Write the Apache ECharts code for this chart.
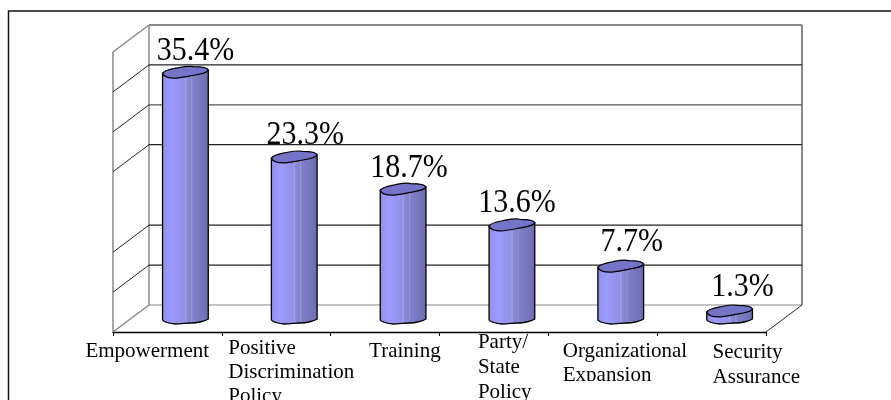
<!DOCTYPE html>
<html>
<head>
<meta charset="utf-8">
<script src="https://cdn.jsdelivr.net/npm/echarts@6/dist/echarts.min.js"></script>
<style>
  html, body { margin: 0; padding: 0; background: #fff; }
  #chart { width: 891px; height: 400px; }
</style>
</head>
<body>
<div id="chart"></div>
<script>
var categories = ['Empowerment', 'Positive\nDiscrimination\nPolicy', 'Training', 'Party/\nState\nPolicy', 'Organizational\nExpansion', 'Security\nAssurance'];
var shares = [35.4, 23.3, 18.7, 13.6, 7.7, 1.3];
// the wall lines of the picture, the one at 17.1 is not drawn in the original
var wall_levels = [0, 5.7, 11.4, 22.9, 28.6, 34.3, 40];

var FONT = '"Liberation Serif", "Times New Roman", serif';
var DEPTH_X = 36, DEPTH_Y = 27;
var GRAY = '#888888';

// label placement, the source chart did not place them evenly
var value_label_dx = [10, 11, 6, 5, 11, 13];
var value_label_dy = [0, -1, 0, 0, -3, -3];
var cat_label_dx = [-82, -48, -16, -16, -40, 1];
var cat_label_baseline = [25, 22, 25, 16, 25, 26];
var cat_label_pitch = [24, 24, 24, 25, 24, 25];
var cat_label_clip = [null, null, null, null, 381, null];

function line(x1, y1, x2, y2, color, width) {
  return {
    type: 'line',
    shape: { x1: x1, y1: y1, x2: x2, y2: y2 },
    style: { stroke: color, lineWidth: width, fill: null }
  };
}

function render_walls(params, api) {
  var v = api.value(1);
  var y = api.coord([0, v])[1];
  var box = params.coordSys;
  var left = box.x, right = box.x + box.width;
  var color = (v === 0 || v === 40) ? GRAY : (v === 28.6 ? '#555555' : '#222222');
  var width = (v === 40) ? 2 : 1.2;
  var kids = [
    line(left, y, right, y, color, width),
    line(left, y, left - DEPTH_X, y + DEPTH_Y, v === 40 || v === 0 ? GRAY : '#222222', v === 40 || v === 0 ? 1.5 : 1)
  ];
  if (v === 0) {
    kids.push(line(left, box.y, left, y, GRAY, 1.5));
    kids.push(line(right, box.y, right, y, GRAY, 2));
    kids.push(line(left - DEPTH_X, box.y + DEPTH_Y, left - DEPTH_X, y + DEPTH_Y, GRAY, 1.5));
    kids.push(line(right, y, right - DEPTH_X, y + DEPTH_Y, '#222222', 1));
  }
  return { type: 'group', children: kids };
}

function render_cylinder(params, api) {
  var i = api.value(0);
  var v = api.value(1);
  var band = api.size([1, 0])[0];
  var cx = api.coord([i, 0])[0] - DEPTH_X / 2;
  var base = api.coord([i, 0])[1] + 14;
  var top = api.coord([i, v])[1] + 15;
  var r = band * 0.21;
  var l = cx - r, e = cx + r;

  var body = 'M' + l + ' ' + (top + 1) +
    'L' + l + ' ' + (base + 1) +
    'C' + (l + 1) + ' ' + (base + 3) + ' ' + (l + 5) + ' ' + (base + 4) + ' ' + (cx - 10) + ' ' + (base + 5) +
    'C' + (cx - 4) + ' ' + (base + 5) + ' ' + (cx + 1) + ' ' + (base + 4) + ' ' + (cx + 6) + ' ' + (base + 4) +
    'C' + (cx + 12) + ' ' + (base + 4) + ' ' + (e - 3) + ' ' + (base + 2) + ' ' + e + ' ' + base +
    'L' + e + ' ' + (top - 2) + 'Z';
  var cap = 'M' + l + ' ' + (top + 1) +
    'C' + (l + 1) + ' ' + (top - 2) + ' ' + (l + 9) + ' ' + (top - 3) + ' ' + (cx - 8) + ' ' + (top - 4) +
    'C' + (cx - 2) + ' ' + (top - 5) + ' ' + (cx + 3) + ' ' + (top - 6) + ' ' + (cx + 8) + ' ' + (top - 5) +
    'C' + (cx + 14) + ' ' + (top - 5) + ' ' + (e - 1) + ' ' + (top - 5) + ' ' + e + ' ' + (top - 2) +
    'C' + (e - 1) + ' ' + (top + 1) + ' ' + (cx + 12) + ' ' + (top + 2) + ' ' + (cx + 5) + ' ' + (top + 3) +
    'C' + (cx - 1) + ' ' + (top + 4) + ' ' + (cx - 6) + ' ' + (top + 5) + ' ' + (cx - 11) + ' ' + (top + 5) +
    'C' + (l + 4) + ' ' + (top + 5) + ' ' + (l + 1) + ' ' + (top + 3) + ' ' + l + ' ' + (top + 1) + 'Z';

  return {
    type: 'group',
    children: [
      {
        type: 'path',
        shape: { pathData: body, layout: 'cover', x: l, y: top - 2, width: 2 * r, height: base + 7 - top },
        style: {
          stroke: '#000',
          lineWidth: 1.3,
          fill: new echarts.graphic.LinearGradient(0, 0, 1, 0, [
            { offset: 0, color: '#8f8fee' },
            { offset: 0.2, color: '#9c9cfe' },
            { offset: 0.48, color: '#9090e4' },
            { offset: 0.5, color: '#a4a4e6' },
            { offset: 0.53, color: '#8a8ad8' },
            { offset: 0.62, color: '#8282cc' },
            { offset: 0.63, color: '#9a9ad6' },
            { offset: 0.66, color: '#7f7fc8' },
            { offset: 0.85, color: '#7676bc' },
            { offset: 1, color: '#6a6aa8' }
          ])
        }
      },
      {
        type: 'path',
        shape: { pathData: cap, layout: 'cover', x: l, y: top - 6, width: 2 * r, height: 12 },
        style: { stroke: '#000', lineWidth: 1.2, fill: '#7474c8' }
      },
      {
        type: 'text',
        x: cx + value_label_dx[i],
        y: top - 21 + value_label_dy[i],
        scaleY: 1.1,
        style: {
          text: v.toFixed(1) + '%',
          x: 0,
          y: 0,
          align: 'center',
          verticalAlign: 'middle',
          font: '30px ' + FONT,
          fill: '#000'
        }
      }
    ]
  };
}

function render_category_label(params, api) {
  var i = api.value(0);
  var p = api.coord([i, 0]);
  var rows = categories[i].split('\n');
  var kids = rows.map(function (row, n) {
    var baseline = 332 + cat_label_baseline[i] + n * cat_label_pitch[i];
    var el = {
      type: 'text',
      style: {
        text: row,
        x: p[0] + cat_label_dx[i],
        y: baseline - 6,
        align: 'left',
        verticalAlign: 'middle',
        font: '21px ' + FONT,
        fill: '#000'
      }
    };
    if (cat_label_clip[i] !== null) {
      el.clipPath = { type: 'rect', shape: { x: 0, y: 0, width: 891, height: cat_label_clip[i] } };
    }
    return el;
  });
  return { type: 'group', children: kids };
}

var chart_div = echarts.init(document.getElementById('chart'));

var option = {
  animation: false,
  backgroundColor: '#fff',
  grid: [
    { left: 149, top: 25, width: 653, height: 280 },
    { left: 113, top: 331, width: 653, height: 1 }
  ],
  xAxis: [
    { type: 'category', gridIndex: 0, data: categories, show: false },
    {
      type: 'category',
      gridIndex: 1,
      data: categories,
      axisLine: { lineStyle: { color: '#000', width: 1.3 } },
      axisTick: { show: true, length: 4, lineStyle: { color: '#000' } },
      axisLabel: { show: false }
    }
  ],
  yAxis: [
    { type: 'value', gridIndex: 0, min: 0, max: 40, show: false },
    { type: 'value', gridIndex: 1, min: 0, max: 1, show: false }
  ],
  graphic: [
    {
      type: 'polyline',
      shape: { points: [[8.5, 400], [8.5, 11], [891, 11]] },
      style: { stroke: '#111', lineWidth: 1.5, fill: null }
    }
  ],
  series: [
    {
      name: 'walls',
      type: 'custom',
      xAxisIndex: 0,
      yAxisIndex: 0,
      renderItem: render_walls,
      data: wall_levels.map(function (v) { return [0, v]; }),
      silent: true,
      z: 1
    },
    {
      name: 'share',
      type: 'custom',
      xAxisIndex: 0,
      yAxisIndex: 0,
      renderItem: render_cylinder,
      data: shares.map(function (v, i) { return [i, v]; }),
      z: 2
    },
    {
      name: 'labels',
      type: 'custom',
      xAxisIndex: 1,
      yAxisIndex: 1,
      renderItem: render_category_label,
      data: categories.map(function (c, i) { return [i, 0]; }),
      silent: true,
      z: 3
    }
  ]
};

chart_div.setOption(option);
</script>
</body>
</html>
